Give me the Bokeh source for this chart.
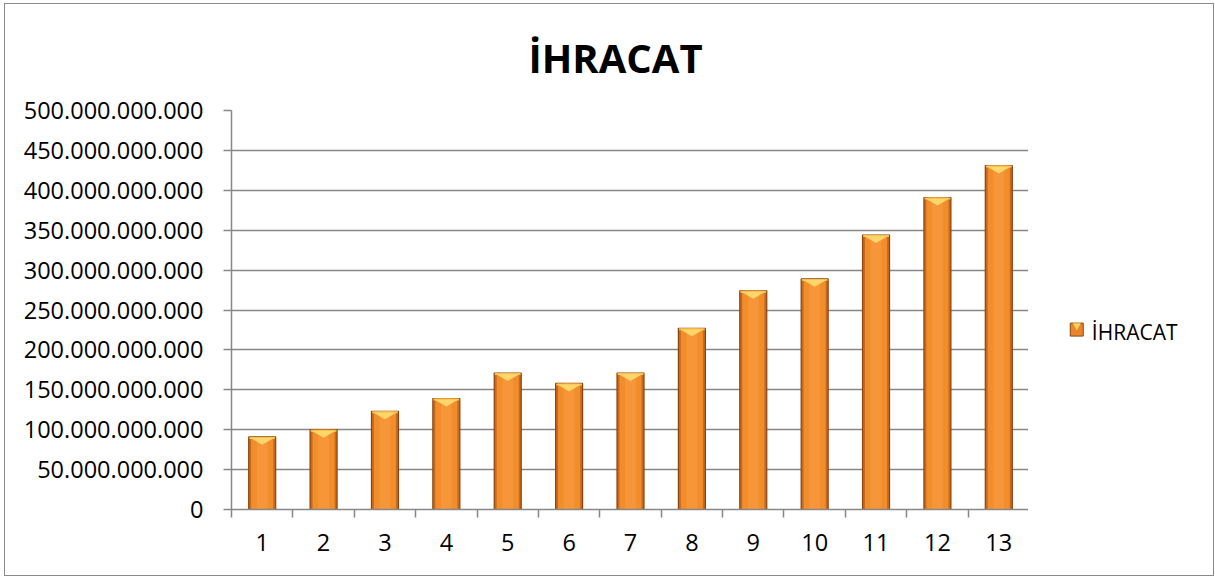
from bokeh.plotting import figure
from bokeh.layouts import row
from bokeh.models import FixedTicker, ColumnDataSource
from bokeh.core.properties import value
from bokeh.embed import file_html
from bokeh.resources import INLINE

# ---- data ----
categories = ["1", "2", "3", "4", "5", "6", "7", "8", "9", "10", "11", "12", "13"]
values = [91e9, 100e9, 123e9, 139e9, 171e9, 158e9, 171e9, 227e9, 274e9, 289e9, 344e9, 391e9, 431e9]
y_ticks = [0, 50e9, 100e9, 150e9, 200e9, 250e9, 300e9, 350e9, 400e9, 450e9, 500e9]
y_tick_labels = ["0", "50.000.000.000", "100.000.000.000", "150.000.000.000", "200.000.000.000",
                 "250.000.000.000", "300.000.000.000", "350.000.000.000", "400.000.000.000",
                 "450.000.000.000", "500.000.000.000"]
series_name = "İHRACAT"
chart_title = "İHRACAT"

FONT = "Open Sans"
GRID = "#878787"
BORDER = "1.5px solid #8a8a8a"

xs = list(range(1, len(categories) + 1))
bar_w = 0.44
cap_d = 10e9

src = ColumnDataSource(dict(x=xs, top=values))

# cap triangles derived from data
cap_xs = [[x - bar_w / 2 + 0.03, x + bar_w / 2 - 0.03, x] for x in xs]
cap_ys = [[v - 1.5e9, v - 1.5e9, v - cap_d] for v in values]
band_src = ColumnDataSource(dict(x=xs, top=values, bottom=[v - 2.5e9 for v in values]))

p = figure(frame_width=797, frame_height=397, x_range=(0.5, len(categories) + 0.5), y_range=(0, 500e9),
           output_backend="svg", toolbar_location=None,
           min_border_left=226, min_border_right=0, min_border_top=106, min_border_bottom=68)

p.styles = {"border-left": BORDER, "border-top": BORDER, "border-bottom": BORDER,
            "margin-left": "4px", "margin-top": "3px"}
p.outline_line_color = None

# title
p.title.text = chart_title
p.title.align = "left"
p.title.vertical_align = "top"
p.title.text_line_height = 1.0
p.title.text_font = FONT
p.title.text_font_style = "bold"
p.title.text_font_size = "40px"
p.title.text_color = "#000000"
p.title.offset = 297
p.title.standoff = 48

# grid
p.xgrid.grid_line_color = None
p.ygrid.grid_line_color = GRID
p.ygrid.grid_line_width = 1.5
p.ygrid.ticker = FixedTicker(ticks=y_ticks)

# y axis
p.yaxis.ticker = FixedTicker(ticks=y_ticks)
p.yaxis.major_label_overrides = {t: l for t, l in zip(y_ticks, y_tick_labels)}
p.yaxis.axis_line_color = GRID
p.yaxis.axis_line_width = 1.5
p.yaxis.major_tick_line_color = GRID
p.yaxis.major_tick_line_width = 1.5
p.yaxis.major_tick_out = 8
p.yaxis.major_tick_in = 0
p.yaxis.minor_tick_line_color = None
p.yaxis.major_label_standoff = 20
p.yaxis.major_label_text_font = FONT
p.yaxis.major_label_text_font_size = "23.5px"
p.yaxis.major_label_text_color = "#000000"

# x axis
p.xaxis.ticker = FixedTicker(ticks=xs, minor_ticks=[x - 0.5 for x in xs] + [xs[-1] + 0.5])
p.xaxis.major_label_overrides = {x: c for x, c in zip(xs, categories)}
p.xaxis.axis_line_color = GRID
p.xaxis.axis_line_width = 1.5
p.xaxis.major_tick_line_color = None
p.xaxis.major_tick_out = 0
p.xaxis.major_tick_in = 0
p.xaxis.minor_tick_line_color = GRID
p.xaxis.minor_tick_line_width = 1.5
p.xaxis.minor_tick_out = 8
p.xaxis.minor_tick_in = 0
p.xaxis.major_label_standoff = 16
p.xaxis.major_label_text_font = FONT
p.xaxis.major_label_text_font_size = "23.5px"
p.xaxis.major_label_text_color = "#000000"

# bars
p.vbar(x="x", top="top", width=bar_w, bottom=0, source=src,
       fill_color="#C9691D", line_color="#8A4510", line_width=1.2)
p.vbar(x="x", top="top", width=bar_w - 0.08, bottom=0, source=src,
       fill_color="#F28D2C", line_color=None)
p.vbar(x="x", top="top", width=bar_w * 0.4, bottom=0, source=src,
       fill_color="#F9A043", fill_alpha=0.5, line_color=None)
p.vbar(x="x", top="top", bottom="bottom", width=bar_w - 0.02, source=band_src,
       fill_color="#F7C04C", line_color=None)
p.patches(xs=cap_xs, ys=cap_ys, fill_color="#FFD66A", line_color=None)

# ---- legend panel (separate canvas to the right) ----
q = figure(frame_width=185, frame_height=397, x_range=(0, 185), y_range=(0, 397),
           output_backend="svg", toolbar_location=None,
           min_border_left=0, min_border_right=0, min_border_top=106, min_border_bottom=68)
q.styles = {"border-right": BORDER, "border-top": BORDER, "border-bottom": BORDER,
            "margin-top": "3px"}
q.axis.visible = False
q.grid.visible = False
q.outline_line_color = None

q.scatter(x=[48], y=[179], marker="square", size=13, fill_color="#E9852B", line_color="#8A4510", line_width=1)
q.scatter(x=[48], y=[183], marker="inverted_triangle", size=8, fill_color="#FFD35E", line_color=None)
q.text(x=[63], y=[177], text=[series_name], text_font=value(FONT), text_font_size="21px",
       text_baseline="middle", text_align="left", text_color="#000000")

layout = row(p, q, spacing=0)
open("out.html", "w").write(file_html(layout, INLINE))
